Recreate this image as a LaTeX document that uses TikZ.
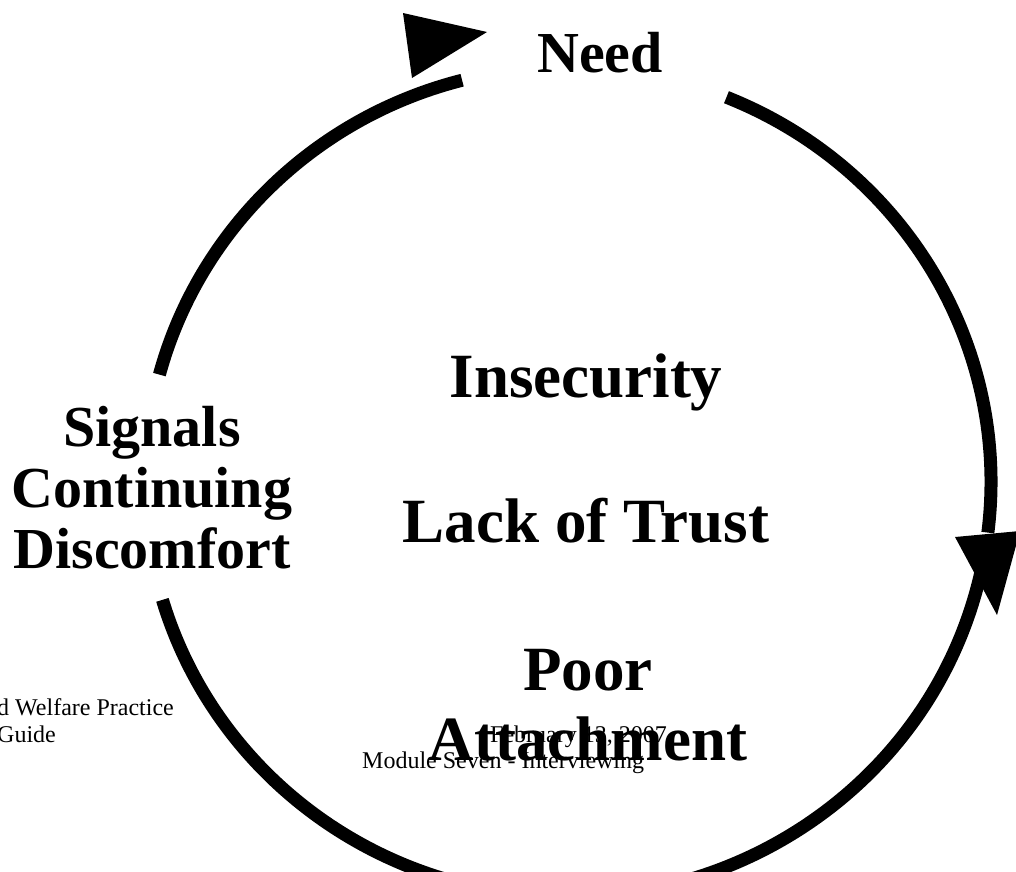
\documentclass[tikz,border=0pt]{standalone}
\usepackage{fontspec}
\setmainfont{Liberation Serif}

\begin{document}
\begin{tikzpicture}[x=1pt,y=1pt,
  ring/.style={line width=13pt},
  arrowhead/.style={fill=black},
  bigtext/.style={font=\fontsize{58}{61}\selectfont\bfseries,align=center,inner sep=0pt},
  midtext/.style={font=\fontsize{63}{70}\selectfont\bfseries,align=center,inner sep=0pt},
  foot/.style={font=\fontsize{24}{27}\selectfont,align=left,inner sep=0pt}]
  \useasboundingbox (0,-871) rectangle (1016,0);
  \fill[white] (0,-871) rectangle (1016,0);
  \coordinate (O) at (568,-482);

  % the cycle, in three pieces
  \draw[ring] (O) ++(68:423 and 415) arc[start angle=68,end angle=-7,x radius=423,y radius=415];
  \draw[ring] (O) ++(-12.5:423 and 415) arc[start angle=-12.5,end angle=-163.5,x radius=423,y radius=415];
  \draw[ring] (O) ++(165:423 and 415) arc[start angle=165,end angle=104.5,x radius=423,y radius=415];
  \fill[arrowhead] (403,-13) -- (487,-32) -- (412,-78) -- cycle;
  \fill[arrowhead] (955,-537) -- (1020,-531) -- (997,-615) -- cycle;

  % base of a multi-line node sits on its last line
  \node[bigtext,anchor=base] (need) at (600,-72) {Need};
  \node[bigtext,anchor=base] (signals) at (152,-568) {Signals\\Continuing\\Discomfort};
  \node[midtext,anchor=base] (insecurity) at (586,-397) {Insecurity};
  \node[midtext,anchor=base] (trust) at (586,-542) {Lack of Trust};
  \node[midtext,anchor=base] (attach) at (588,-760) {Poor\\Attachment};

  % footer
  \node[foot,anchor=base west] (guide) at (-3,-742) {d Welfare Practice\\Guide};
  \node[foot,anchor=base west] (date) at (490,-742) {February 13, 2007};
  \node[foot,anchor=base west] (module) at (362,-768) {Module Seven - Interviewing};
\end{tikzpicture}
\end{document}
